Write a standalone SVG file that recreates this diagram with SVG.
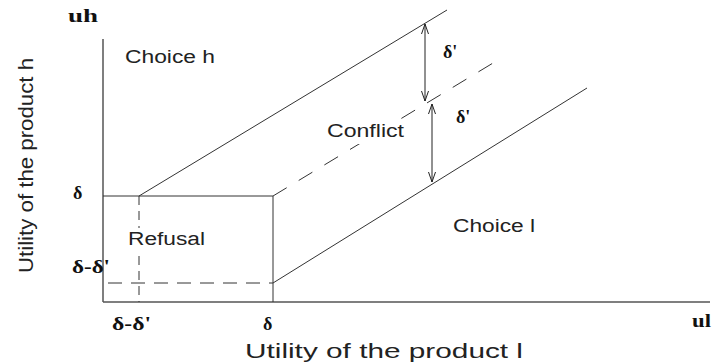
<svg xmlns="http://www.w3.org/2000/svg" width="714" height="363" viewBox="0 0 714 363">
<style>
.ln{stroke:#333;stroke-width:1;fill:none}
.ax{stroke:#555;stroke-width:1.5;fill:none}
.dv{stroke:#333;stroke-width:1;fill:none;stroke-dasharray:9 6}
.dh{stroke:#333;stroke-width:1;fill:none;stroke-dasharray:14 9}
.dd{stroke:#333;stroke-width:1;fill:none;stroke-dasharray:16 14}
.lab{font-family:"Liberation Sans",Arial,sans-serif;font-size:18px;fill:#222}
.big{font-family:"Liberation Sans",Arial,sans-serif;font-size:21px;fill:#222}
.sym{font-family:"Liberation Serif","Times New Roman",serif;font-weight:bold;font-size:18px;fill:#111}
.arr{stroke:#222;stroke-width:1;fill:none;marker-start:url(#a);marker-end:url(#a)}
.bg{fill:#fff}
</style>
<defs>
<marker id="a" viewBox="0 0 10 10" refX="10" refY="5" markerWidth="10" markerHeight="10" markerUnits="userSpaceOnUse" orient="auto-start-reverse">
<path d="M0,1.5 L10,5 L0,8.5" fill="none" stroke="#222" stroke-width="1"/>
</marker>
</defs>
<rect width="714" height="363" fill="#fff"/>
<g id="axes">
<line class="ax" x1="103" y1="39" x2="103" y2="302"/>
<line class="ax" x1="103" y1="302" x2="710" y2="302"/>
</g>
<g id="connectors">
<line class="ln" x1="103" y1="196" x2="273" y2="196"/>
<line class="ln" x1="273" y1="196" x2="273" y2="302"/>
<line class="dv" x1="139" y1="196" x2="139" y2="302"/>
<line class="dh" x1="108" y1="283" x2="273" y2="283"/>
<line class="ln" x1="139" y1="196" x2="447" y2="10"/>
<line class="dd" x1="273" y1="196" x2="503" y2="57"/>
<line class="ln" x1="273" y1="283" x2="587" y2="88"/>
<line class="arr" x1="425" y1="24" x2="425" y2="101"/>
<line class="arr" x1="432" y1="104" x2="432" y2="182"/>
</g>
<g id="labels">
<text class="sym" x="68" y="22" textLength="30" lengthAdjust="spacingAndGlyphs">uh</text>
<text class="sym" x="692" y="327" textLength="19" lengthAdjust="spacingAndGlyphs">ul</text>
<text class="sym" x="443" y="58">δ'</text>
<text class="sym" x="456" y="123">δ'</text>
<text class="sym" x="73" y="199">δ</text>
<text class="sym" x="72" y="273" textLength="38" lengthAdjust="spacingAndGlyphs">δ-δ'</text>
<text class="sym" x="112" y="330" textLength="39" lengthAdjust="spacingAndGlyphs">δ-δ'</text>
<text class="sym" x="263" y="330">δ</text>
</g>
<g id="choice-h"><text class="lab" x="125" y="63" textLength="90" lengthAdjust="spacingAndGlyphs">Choice h</text></g>
<g id="conflict"><rect class="bg" x="322" y="120" width="88" height="24"/><text class="lab" x="327" y="137" textLength="77" lengthAdjust="spacingAndGlyphs">Conflict</text></g>
<g id="refusal"><rect class="bg" x="125" y="228" width="84" height="22"/><text class="lab" x="128" y="245" textLength="77" lengthAdjust="spacingAndGlyphs">Refusal</text></g>
<g id="choice-l"><text class="lab" x="453" y="232" textLength="82" lengthAdjust="spacingAndGlyphs">Choice l</text></g>
<g id="axis-titles">
<text class="big" x="245" y="358" textLength="278" lengthAdjust="spacingAndGlyphs">Utility of the product l</text>
<text class="big" transform="translate(33,273) rotate(-90)" x="0" y="0" textLength="215" lengthAdjust="spacingAndGlyphs">Utility of the product h</text>
</g>
</svg>
